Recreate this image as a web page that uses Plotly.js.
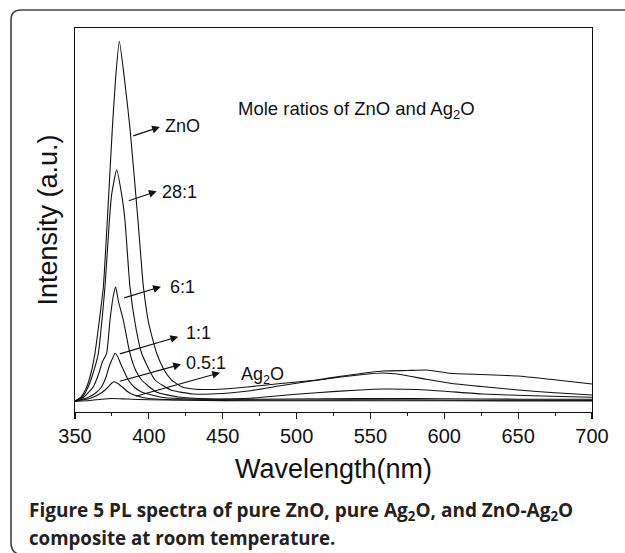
<!DOCTYPE html>
<html>
<head>
<meta charset="utf-8">
<script src="https://cdn.plot.ly/plotly-3.0.1.min.js"></script>
<style>
  html, body { margin: 0; padding: 0; background: #fff; }
  #chart { width: 625px; height: 553px; }
</style>
</head>
<body>
<div id="chart"></div>
<script>
// ---- Data (wavelength in nm, intensity in arbitrary units) ----
const znoX   = [350, 354, 358, 361, 363.5, 366, 369.2, 371.9, 375.3, 377.5, 380, 383.4, 387.2, 392.6, 396.3, 400, 405.3, 410, 415.4, 422.2, 430, 440, 450, 468.5, 490.8, 513.6, 536, 558.6, 575, 588, 604, 625, 649.7, 671.6, 700];
const znoY   = [10, 50, 153, 300, 487, 760, 1153, 1823, 2740, 3240, 3607, 3240, 2740, 1823, 1153, 780, 487, 330, 220, 153, 130, 125, 130, 153, 187, 220, 270, 310, 315, 320, 287, 275, 260, 227, 180];

const r28X   = [350, 355, 359, 362.5, 365.8, 368, 370.3, 373.3, 374.8, 378.2, 381.6, 383.8, 387.2, 391, 395.1, 404.2, 415, 430, 450, 470, 490, 510, 530, 545, 558.7, 570, 588, 604, 625, 650, 675, 700];
const r28Y   = [10, 50, 153, 300, 487, 780, 1153, 1820, 2073, 2323, 2073, 1820, 1153, 760, 487, 220, 120, 80, 85, 115, 165, 210, 250, 275, 290, 275, 227, 187, 155, 120, 92, 70];

const r6X    = [350, 356, 362.4, 366, 368.5, 371.4, 373.7, 375.8, 377.5, 379.5, 382.7, 387.2, 391, 395.1, 405, 420, 440, 468.5, 490, 513.6, 540, 558.7, 588, 626, 660, 700];
const r6Y    = [10, 50, 153, 280, 400, 487, 820, 1050, 1153, 1000, 820, 487, 320, 220, 100, 50, 32, 37, 65, 93, 118, 130, 120, 80, 62, 47];

const r1X    = [350, 358, 364, 368, 371, 373, 375.5, 377.1, 379, 381, 386.1, 390, 395, 410, 430, 470, 520, 560, 600, 650, 700];
const r1Y    = [10, 40, 90, 153, 250, 350, 440, 487, 450, 380, 220, 150, 100, 45, 30, 28, 32, 35, 32, 28, 27];

const r05X   = [350, 360, 366, 370, 372.6, 375, 376.6, 379, 382, 386, 390, 400, 420, 500, 560, 620, 700];
const r05Y   = [8, 35, 75, 115, 153, 190, 203, 185, 150, 100, 70, 35, 22, 20, 22, 18, 16];

const ag2oX  = [350, 360, 368, 375, 385, 400, 450, 500, 550, 600, 700];
const ag2oY  = [6, 15, 28, 35, 30, 22, 14, 12, 13, 12, 10];

const seriesNames = ['ZnO', '28:1', '6:1', '1:1', '0.5:1', 'Ag<sub>2</sub>O'];
const xTicks = [350, 400, 450, 500, 550, 600, 650, 700];

// ---- Build traces ----
const xs = [znoX, r28X, r6X, r1X, r05X, ag2oX];
const ys = [znoY, r28Y, r6Y, r1Y, r05Y, ag2oY];
const traces = xs.map((x, i) => ({
  x: x, y: ys[i], name: seriesNames[i], type: 'scatter', mode: 'lines',
  line: {color: '#111', width: 1.1, shape: 'spline', smoothing: 0.5},
  hoverinfo: 'skip'
}));

const FONT = 'Liberation Sans, Arial, sans-serif';

// arrows: head near the label, tail on the curve (data coordinates)
const arrows = [
  {hx: 407.5, hy: 2750, tx: 388.4, ty: 2657},
  {hx: 405.3, hy: 2107, tx: 385.4, ty: 2007},
  {hx: 408.2, hy: 1153, tx: 382.3, ty: 1037},
  {hx: 419.9, hy: 653,  tx: 379.3, ty: 477},
  {hx: 421.8, hy: 377,  tx: 379.3, ty: 203},
  {hx: 448.2, hy: 293,  tx: 390.1, ty: 53}
];
const labels = [
  {x: 409.6, y: 2764}, {x: 407.5, y: 2100}, {x: 412.8, y: 1153},
  {x: 423.8, y: 690},  {x: 423.8, y: 387},  {x: 461, y: 270}
];

const annotations = [];
arrows.forEach(a => annotations.push({
  x: a.hx, y: a.hy, ax: a.tx, ay: a.ty, axref: 'x', ayref: 'y', xref: 'x', yref: 'y',
  text: '', showarrow: true, arrowhead: 2, arrowsize: 1.3, arrowwidth: 1.2, arrowcolor: '#111'
}));
labels.forEach((l, i) => annotations.push({
  x: l.x, y: l.y, xref: 'x', yref: 'y', xanchor: 'left', yanchor: 'middle',
  text: seriesNames[i], showarrow: false, font: {family: FONT, size: 18, color: '#111'}
}));
annotations.push({
  x: 459, y: 2920, xref: 'x', yref: 'y', xanchor: 'left', yanchor: 'middle',
  text: 'Mole ratios of ZnO and Ag<sub>2</sub>O', showarrow: false,
  font: {family: FONT, size: 18.5, color: '#111'}
});
// caption
annotations.push({
  x: -0.093, y: -0.258, xref: 'paper', yref: 'paper', xanchor: 'left', yanchor: 'middle',
  text: '<b>Figure 5 PL spectra of pure ZnO, pure Ag<sub>2</sub>O, and ZnO-Ag<sub>2</sub>O</b>',
  showarrow: false, font: {family: 'Open Sans, sans-serif', size: 19, color: '#222'}
});
annotations.push({
  x: -0.093, y: -0.328, xref: 'paper', yref: 'paper', xanchor: 'left', yanchor: 'middle',
  text: '<b>composite at room temperature.</b>',
  showarrow: false, font: {family: 'Open Sans, sans-serif', size: 18.7, color: '#222'}
});

const layout = {
  width: 625, height: 553,
  margin: {l: 75, r: 33, t: 28, b: 141, pad: 0},
  paper_bgcolor: '#fff', plot_bgcolor: '#fff',
  showlegend: false,
  font: {family: FONT, color: '#111'},
  xaxis: {
    range: [350, 700], tickvals: xTicks, ticktext: xTicks.map(String),
    ticks: 'outside', ticklen: 6, tickwidth: 1.2, tickcolor: '#111',
    minor: {dtick: 25, tick0: 350, ticks: 'outside', ticklen: 3, tickwidth: 1, tickcolor: '#111'},
    showline: true, linecolor: '#111', linewidth: 1.3, mirror: true,
    showgrid: false, zeroline: false,
    tickfont: {family: FONT, size: 20, color: '#111'},
    title: {text: 'Wavelength(nm)', font: {family: FONT, size: 27, color: '#111'}, standoff: 12}
  },
  yaxis: {
    range: [-100, 3740], showticklabels: false, ticks: '',
    showline: true, linecolor: '#111', linewidth: 1.3, mirror: true,
    showgrid: false, zeroline: false,
    title: {text: 'Intensity (a.u.)', font: {family: FONT, size: 27, color: '#111'}, standoff: 8}
  },
  annotations: annotations,
  shapes: [{
    type: 'path', xref: 'paper', yref: 'paper',
    path: 'M -0.1238 -0.34 Q -0.1238 -0.372 -0.100 -0.372 M -0.1238 -0.34 L -0.1238 1.021 Q -0.1238 1.0469 -0.1045 1.0469 L 1.08 1.0469',
    line: {color: '#444', width: 1.6}
  }]
};

Plotly.newPlot('chart', traces, layout, {staticPlot: true, displayModeBar: false});
</script>
</body>
</html>
